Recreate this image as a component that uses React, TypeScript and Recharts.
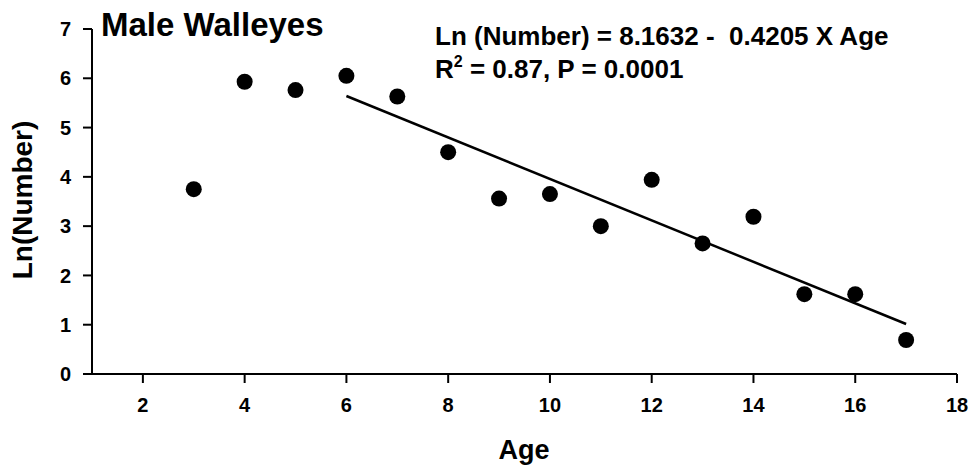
import React from "react";
import {
  ScatterChart,
  Scatter,
  XAxis,
  YAxis,
  ReferenceLine,
} from "recharts";

// Age classes and Ln(catch number) for male walleyes
const ages = [3, 4, 5, 6, 7, 8, 9, 10, 11, 12, 13, 14, 15, 16, 17];
const lnNumber = [
  3.75, 5.93, 5.76, 6.05, 5.63, 4.5, 3.56, 3.65, 3.0, 3.94, 2.65, 3.19, 1.62,
  1.62, 0.69,
];

const xTicks = [2, 4, 6, 8, 10, 12, 14, 16, 18];
const yTicks = [0, 1, 2, 3, 4, 5, 6, 7];

// Fitted regression (ages 6 through 17)
const FIT_INTERCEPT = 8.1632;
const FIT_SLOPE = -0.4205;
const fitRange = [6, 17];

const FONT = "Arial, 'Liberation Sans', Helvetica, sans-serif";
const INK = "#000";

const points = ages.map((age, i) => ({ age, ln: lnNumber[i] }));
const fitSegment = fitRange.map((x) => ({
  x,
  y: FIT_INTERCEPT + FIT_SLOPE * x,
}));

type TickProps = { x?: number; y?: number; payload?: { value: number } };

function XTick({ x, y, payload }: TickProps) {
  return (
    <text
      x={x}
      y={y}
      dy="0.71em"
      textAnchor="middle"
      fontFamily={FONT}
      fontSize={20}
      fontWeight={700}
      fill={INK}
    >
      {payload?.value}
    </text>
  );
}

function YTick({ x, y, payload }: TickProps) {
  return (
    <text
      x={x}
      y={y}
      dy="0.36em"
      textAnchor="end"
      fontFamily={FONT}
      fontSize={20}
      fontWeight={700}
      fill={INK}
    >
      {payload?.value}
    </text>
  );
}

function Dot(props: { cx?: number; cy?: number }) {
  if (props.cx == null || props.cy == null) return null;
  return <circle cx={props.cx} cy={props.cy} r={8} fill={INK} />;
}

export default function App() {
  return (
    <div
      style={{
        position: "absolute",
        left: 0,
        top: 0,
        width: 975,
        height: 470,
        background: "#fff",
      }}
    >
      <ScatterChart
        width={975}
        height={470}
        margin={{ top: 29, right: 18, left: 32, bottom: 56 }}
      >
        <XAxis
          type="number"
          dataKey="age"
          domain={[1, 18]}
          ticks={xTicks}
          allowDataOverflow
          tick={<XTick />}
          tickSize={9}
          tickMargin={15}
          height={40}
          axisLine={{ stroke: INK, strokeWidth: 2 }}
          tickLine={{ stroke: INK, strokeWidth: 2 }}
        />
        <YAxis
          type="number"
          dataKey="ln"
          domain={[0, 7]}
          ticks={yTicks}
          allowDataOverflow
          tick={<YTick />}
          tickSize={9}
          tickMargin={12}
          width={60}
          axisLine={{ stroke: INK, strokeWidth: 2 }}
          tickLine={{ stroke: INK, strokeWidth: 2 }}
        />
        <ReferenceLine
          segment={fitSegment}
          stroke={INK}
          strokeWidth={2.5}
          ifOverflow="visible"
        />
        <Scatter
          data={points}
          shape={<Dot />}
          isAnimationActive={false}
        />

        <text
          x={101}
          y={36}
          fontFamily={FONT}
          fontSize={33}
          fontWeight={700}
          fill={INK}
        >
          Male Walleyes
        </text>
        <text
          x={435}
          y={45}
          fontFamily={FONT}
          fontSize={26}
          fontWeight={700}
          fill={INK}
          style={{ whiteSpace: "pre" }}
        >
          {"Ln (Number) = 8.1632 -  0.4205 X Age"}
        </text>
        <text
          x={435}
          y={78}
          fontFamily={FONT}
          fontSize={26}
          fontWeight={700}
          fill={INK}
        >
          R
          <tspan fontSize={16} dy={-11}>
            2
          </tspan>
          <tspan dy={11}>{" = 0.87, P = 0.0001"}</tspan>
        </text>
        <text
          x={524}
          y={459}
          textAnchor="middle"
          fontFamily={FONT}
          fontSize={27}
          fontWeight={700}
          fill={INK}
        >
          Age
        </text>
        <text
          transform="translate(32,200) rotate(-90)"
          textAnchor="middle"
          fontFamily={FONT}
          fontSize={28}
          fontWeight={700}
          fill={INK}
        >
          Ln(Number)
        </text>
      </ScatterChart>
    </div>
  );
}
